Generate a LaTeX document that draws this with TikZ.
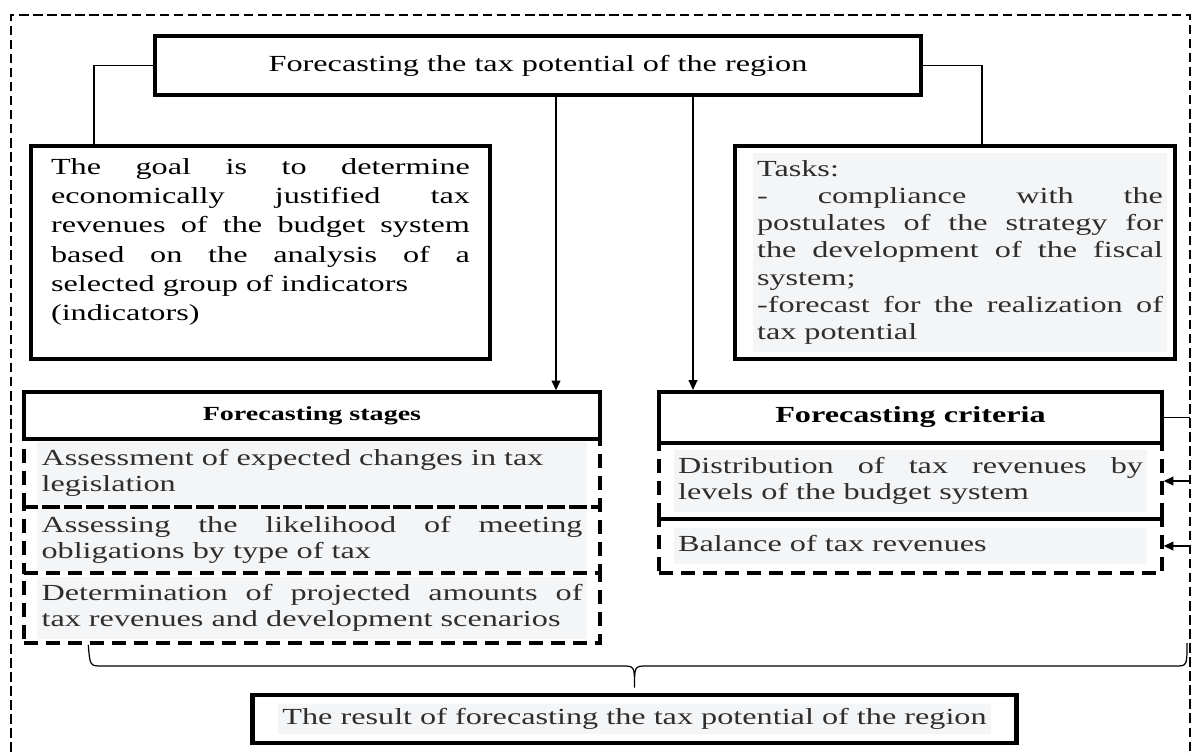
\documentclass[tikz,border=0pt]{standalone}
\usepackage{fontspec}
\setmainfont[FakeStretch=1.4]{Liberation Serif}
\usepackage{xcolor}
\usetikzlibrary{arrows.meta}

\definecolor{hlgray}{HTML}{F4F5F7}
\definecolor{txtgray}{HTML}{2E2E2E}
\newcommand{\hl}[1]{{\setlength{\fboxsep}{2.5pt}\colorbox{hlgray}{#1}}}

\tikzset{
  box/.style={draw, line width=2.4pt, inner sep=0pt},
  dbox/.style={draw, line width=2pt, dash pattern=on 8pt off 4.5pt, inner sep=0pt},
  link/.style={line width=0.7pt},
  arr/.style={link, -{Triangle[length=5.5pt,width=5pt]}},
}

\begin{document}
\begin{tikzpicture}[x=0.02cm,y=-0.02cm,font=\fontsize{13.1}{15.1}\selectfont]
\useasboundingbox (0,0) rectangle (1192,755);
\hyphenpenalty=10000

% outer frame (open at the bottom)
\draw[line width=1.1pt, dash pattern=on 5.4pt off 2.6pt] (11,780) |- (1190,15) -- (1190,780);

\node[box, minimum width=15.32cm, minimum height=1.18cm] (top) at (538,65.5) {Forecasting the tax potential of the region};

\node[box, minimum width=9.18cm, minimum height=4.26cm] (goal) at (260.5,252.5)
  {\parbox{8.38cm}{\fontsize{13.1}{16.7}\selectfont The goal is to determine\linebreak economically justified tax\linebreak revenues of the budget system\linebreak based on the analysis of a\linebreak selected group of indicators\newline (indicators)\par\vspace{12pt}}};

\node[box, minimum width=8.8cm, minimum height=4.26cm] (tasks) at (955,252.5)
  {\hspace{0.2cm}\hl{\parbox{8.12cm}{\fontsize{13.1}{15.5}\selectfont\color{txtgray}\strut Tasks:\newline - compliance with the\linebreak postulates of the strategy for\linebreak the development of the fiscal\linebreak system;\newline -forecast for the realization of\linebreak tax potential\strut}}};

% stages column
\node[box, line width=2pt, minimum width=11.52cm, minimum height=0.94cm, font=\bfseries\fontsize{11.4}{13}\selectfont] (stages) at (312,415.5) {Forecasting stages};
\node[dbox, minimum width=11.52cm, minimum height=1.36cm] (stage1) at (312,473)
  {\hl{\parbox{10.82cm}{\color{txtgray}\strut Assessment of expected changes in tax\newline legislation\strut}}};
\node[dbox, minimum width=11.52cm, minimum height=1.32cm] (stage2) at (312,540)
  {\hl{\parbox{10.82cm}{\color{txtgray}\strut Assessing the likelihood of meeting\linebreak obligations by type of tax\strut}}};
\node[dbox, minimum width=11.52cm, minimum height=1.4cm] (stage3) at (312,608)
  {\hl{\parbox{10.82cm}{\color{txtgray}\strut Determination of projected amounts of\linebreak tax revenues and development scenarios\strut}}};

% criteria column
\node[box, minimum width=10.06cm, minimum height=1.02cm, font=\bfseries\fontsize{13.1}{15}\selectfont] (crit) at (910.5,417.5) {Forecasting criteria};
\node[dbox, minimum width=10.06cm, minimum height=1.52cm] (critA) at (910.5,481)
  {\hl{\parbox{9.3cm}{\color{txtgray}\strut Distribution of tax revenues by\linebreak levels of the budget system\strut}}};
\node[dbox, minimum width=10.06cm, minimum height=1.08cm] (critB) at (910.5,546)
  {\hl{\parbox{9.3cm}{\color{txtgray}\strut Balance of tax revenues\strut}}};

\node[box, line width=2.8pt, minimum width=15.3cm, minimum height=0.96cm] (result) at (634.5,719)
  {\hl{\color{txtgray}The result of forecasting the tax potential of the region}};

% links from the title box
\draw[link] (top.west) -| ([xshift=1.3cm]goal.north west);
\draw[link] (top.east) -| ([xshift=4.98cm]tasks.north west);
\draw[arr] ([xshift=0.36cm]top.south) -- ([xshift=0.36cm]top.south |- stages.north);
\draw[arr] ([xshift=3.1cm]top.south) -- ([xshift=3.1cm]top.south |- crit.north);

% criteria rail on the right
\coordinate (rail) at (1190,0);
\draw[link] (crit.east) -- (crit.east -| rail);
\draw[arr] (critA.east -| rail) -- (critA.east);
\draw[arr] (critB.east -| rail) -- (critB.east);

% brace down to the result
\coordinate (brL) at ([xshift=1.32cm]stage3.south west);
\coordinate (brR) at (1187,643);
\coordinate (tip) at ([yshift=0.1cm]result.north);
\draw[link] (brL) .. controls (90,666) .. (102,666) -- (622,666) .. controls (634.5,666) .. (tip)
  .. controls (634.5,666) .. (647,666) -- (1175,666) .. controls (1187,666) .. (brR);
\end{tikzpicture}
\end{document}
